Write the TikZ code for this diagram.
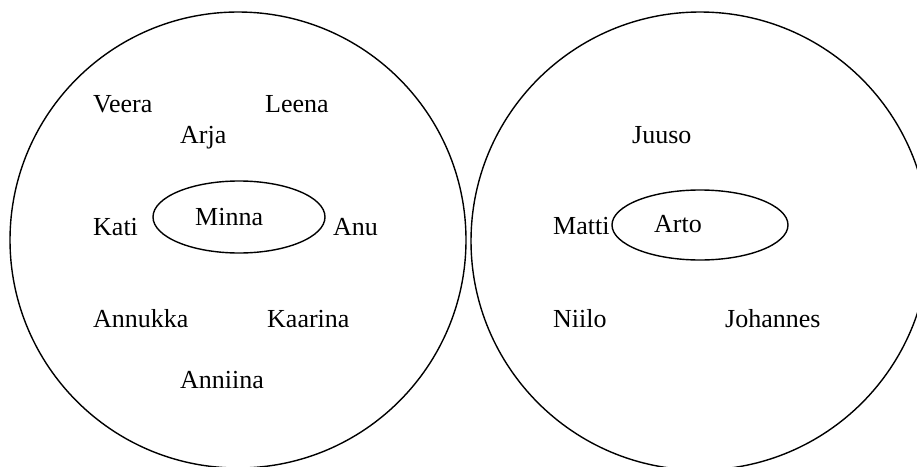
\documentclass[tikz,border=0pt]{standalone}
\usepackage{fontspec}
\setmainfont{Liberation Serif}
\usetikzlibrary{shapes.geometric}

\tikzset{
  person/.style={anchor=base west, inner sep=0pt, font=\fontsize{26}{31}\selectfont},
  ring/.style={draw, line width=1.4pt},
  core/.style={draw, ellipse, line width=1.4pt, inner sep=0pt}
}

\begin{document}
\begin{tikzpicture}[x=1pt, y=-1pt]
\useasboundingbox (0,0) rectangle (917,466);
\clip (0,0) rectangle (917,466);
\fill[white] (0,0) rectangle (917,466);
% left group
\draw[ring] (238,240) circle (228);
\node[core, minimum width=172pt, minimum height=72pt] (minnaring) at (239,217) {};
\node[person] (veera) at (93,112) {Veera};
\node[person] (leena) at (265,112) {Leena};
\node[person] (arja) at (180,143) {Arja};
\node[person] (kati) at (93,235) {Kati};
\node[person] (minna) at (195,225) {Minna};
\node[person] (anu) at (333,235) {Anu};
\node[person] (annukka) at (93,327) {Annukka};
\node[person] (kaarina) at (267,327) {Kaarina};
\node[person] (anniina) at (180,388) {Anniina};
% right group
\draw[ring] (700,241) circle (229);
\node[core, minimum width=176pt, minimum height=70pt] (artoring) at (700,225) {};
\node[person] (juuso) at (632,143) {Juuso};
\node[person] (matti) at (553,234) {Matti};
\node[person] (arto) at (654,232) {Arto};
\node[person] (niilo) at (553,327) {Niilo};
\node[person] (johannes) at (725,327) {Johannes};
\end{tikzpicture}
\end{document}
